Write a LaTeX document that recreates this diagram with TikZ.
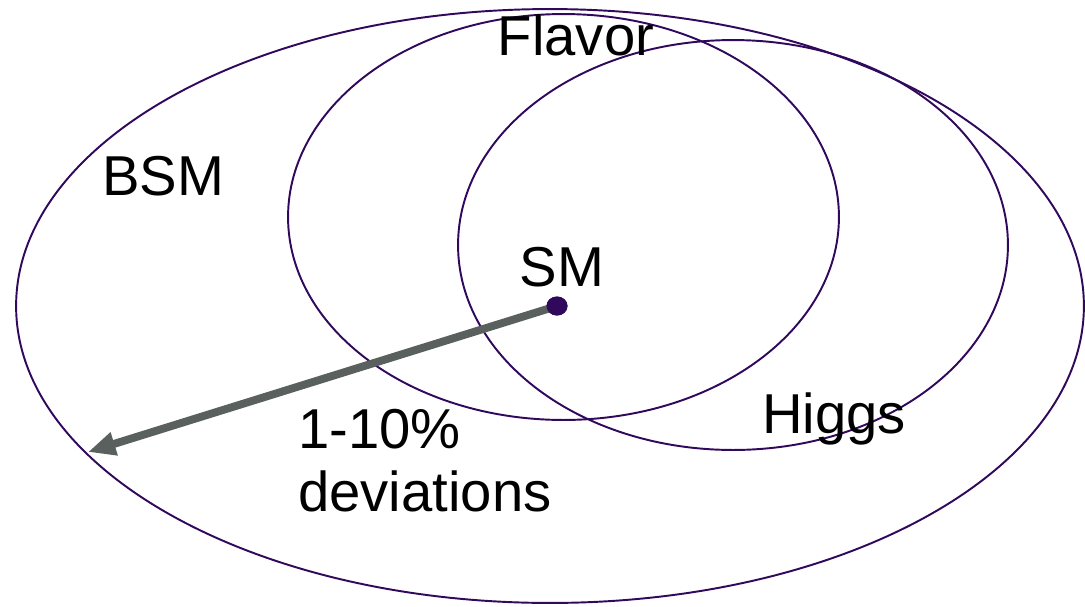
\documentclass[tikz,border=0pt]{standalone}
\usepackage{fontspec}
\setmainfont{Liberation Sans}
\usetikzlibrary{shapes.geometric, arrows.meta, positioning}

\definecolor{ringpurple}{RGB}{48,8,92}
\definecolor{arrowgray}{RGB}{90,96,94}

\begin{document}
\begin{tikzpicture}[
    x=0.02cm, y=-0.02cm,
    ring/.style={ellipse, draw=ringpurple, line width=1.1pt, inner sep=0pt},
    tag/.style={font=\fontsize{32}{36}\selectfont, inner sep=0pt},
    arrow/.style={line width=4.5pt, draw=arrowgray, -{Triangle[length=0.55cm, width=0.45cm]}}
]
\useasboundingbox (0,0) rectangle (1085,606);

% Rings
\node (bsm) [ring, minimum width=21.36cm, minimum height=11.88cm] at (550,306) {};
\node (flavor) [ring, minimum width=11.02cm, minimum height=8.12cm] at (563.5,217) {};
\node (higgs) [ring, minimum width=11.0cm, minimum height=8.2cm] at (733,245) {};

% Labels
\node (flavortext) [tag, anchor=base] at (576,55) {Flavor};
\node (bsmtext) [tag, anchor=base] at (163,195) {BSM};
\node (smtext) [tag, anchor=base] at (562,286) {SM};
\node (higgstext) [tag, anchor=base] at (834,433) {Higgs};
\node (devtext) [tag, anchor=north west, align=left] at (298,409) {1-10\%\\deviations};

% Arrow
\coordinate (tip) at (88,452);
\node (dot) [ellipse, fill=ringpurple, minimum width=0.42cm, minimum height=0.38cm, inner sep=0pt] at (557,306) {};
\draw [arrow] (dot.center) -- (tip);
\node [ellipse, fill=ringpurple, minimum width=0.42cm, minimum height=0.38cm, inner sep=0pt] at (dot) {};

\end{tikzpicture}
\end{document}
